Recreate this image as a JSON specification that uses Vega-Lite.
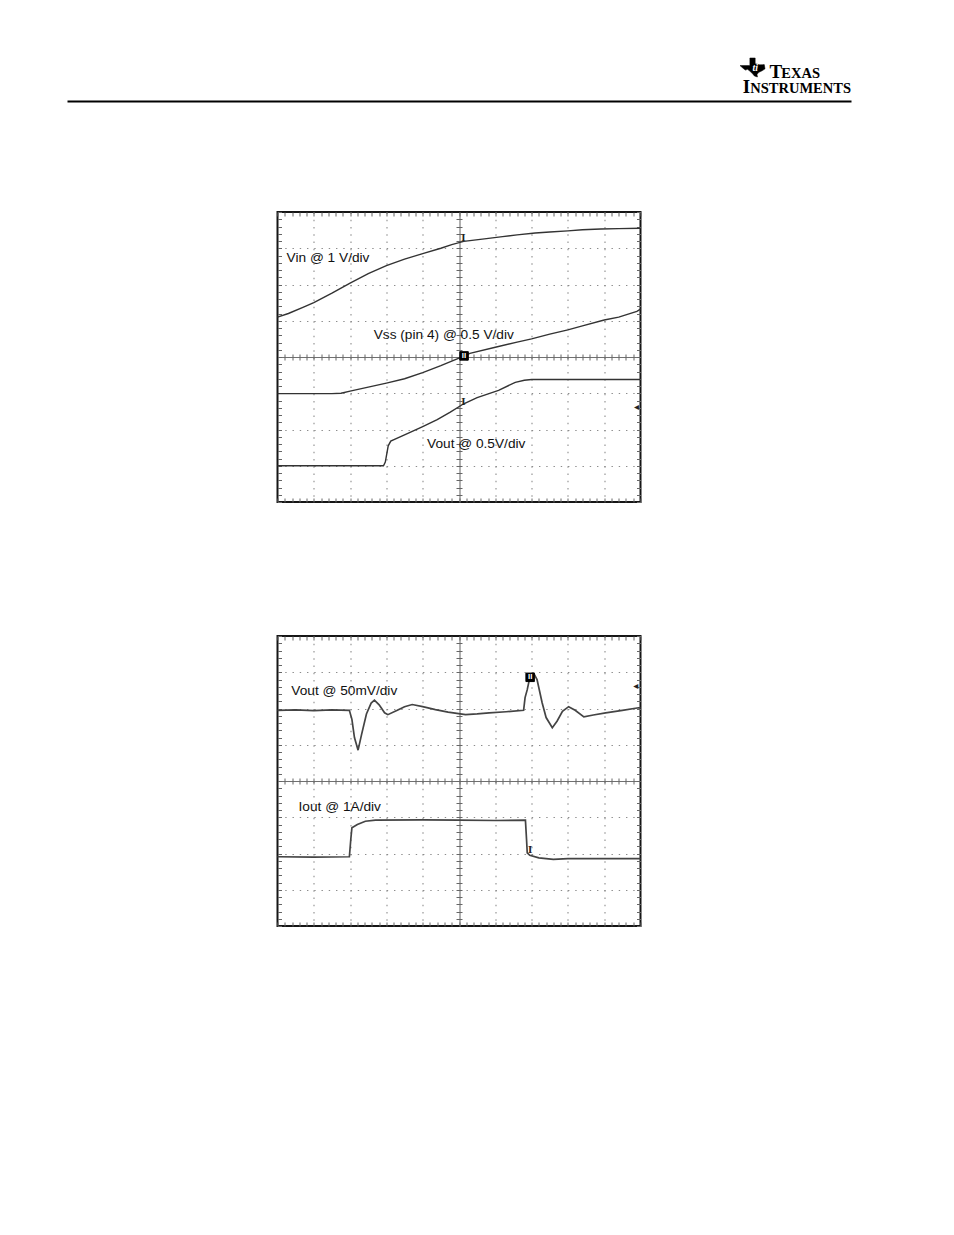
{
 "$schema": "https://vega.github.io/schema/vega-lite/v6.json",
 "background": "white",
 "padding": {"left": 67, "top": 51, "right": 103, "bottom": 309},
 "bounds": "flush",
 "center": true,
 "spacing": 134,
 "config": {"view": {"stroke": "#151515", "strokeWidth": 2}},
 "vconcat": [
  {
   "width": 784, "height": 27,
   "view": {"stroke": null},
   "resolve": {"axis": {"x": "independent", "y": "independent"}},
   "layer": [
    {"data": {"values": [{"w": "T", "x": 89.6, "y": -0.011}, {"w": "I", "x": 86.19, "y": -0.567}]},
     "mark": {"type": "text", "font": "Liberation Serif", "fontSize": 19, "fontWeight": "bold", "align": "left", "baseline": "alphabetic", "color": "#000"},
     "encoding": {
      "x": {"field": "x", "type": "quantitative", "scale": {"domain": [0, 100], "nice": false, "zero": false}, "axis": {"orient": "bottom", "offset": 23, "domain": true, "domainColor": "#000", "domainWidth": 2, "ticks": false, "labels": false, "grid": false, "title": null}},
      "y": {"field": "y", "type": "quantitative", "scale": {"domain": [0, 1], "nice": false, "zero": false}, "axis": null},
      "text": {"field": "w"}}},
    {"data": {"values": [{"w": "EXAS", "x": 96.05, "y": -0.011}, {"w": "NSTRUMENTS", "x": 100.0, "y": -0.567}]},
     "mark": {"type": "text", "font": "Liberation Serif", "fontSize": 14.5, "fontWeight": "bold", "align": "right", "baseline": "alphabetic", "color": "#000"},
     "encoding": {
      "x": {"field": "x", "type": "quantitative", "scale": {"domain": [0, 100], "nice": false, "zero": false}, "axis": null},
      "y": {"field": "y", "type": "quantitative", "scale": {"domain": [0, 1], "nice": false, "zero": false}, "axis": null},
      "text": {"field": "w"}}},
    {"data": {"values": [{"x": 87.44, "y": 0.389}]},
     "mark": {"type": "point", "shape": "M-0.212,-0.76L0.212,-0.76L0.212,-0.3L0.576,-0.21L0.939,-0.23L1,0.11L0.758,0.27L0.479,0.4L0.358,0.57L0.394,0.76L0.152,0.68L-0.03,0.46L-0.248,0.27L-0.394,0.15L-0.576,0.21L-0.758,0.06L-1,-0.15L-0.212,-0.15Z", "size": 625, "filled": true, "fill": "#000", "stroke": "#000", "strokeWidth": 0.5, "opacity": 1},
     "encoding": {
      "x": {"field": "x", "type": "quantitative", "scale": {"domain": [0, 100], "nice": false, "zero": false}, "axis": null},
      "y": {"field": "y", "type": "quantitative", "scale": {"domain": [0, 1], "nice": false, "zero": false}, "axis": null}}},
    {"data": {"values": [{"w": "ti", "x": 87.8, "y": 0.36}]},
     "mark": {"type": "text", "font": "Liberation Serif", "fontStyle": "italic", "fontWeight": "bold", "fontSize": 10, "color": "#fff", "align": "center", "baseline": "middle"},
     "encoding": {
      "x": {"field": "x", "type": "quantitative", "scale": {"domain": [0, 100], "nice": false, "zero": false}, "axis": null},
      "y": {"field": "y", "type": "quantitative", "scale": {"domain": [0, 1], "nice": false, "zero": false}, "axis": null},
      "text": {"field": "w"}}}
   ]
  },
  {
   "width": 363, "height": 290,
   "data": {"values": [
    {"series": "Vin", "t": 0, "v": 5.1}, {"series": "Vin", "t": 0.3, "v": 5.2}, {"series": "Vin", "t": 0.7, "v": 5.37}, {"series": "Vin", "t": 1.0, "v": 5.5}, {"series": "Vin", "t": 1.5, "v": 5.76}, {"series": "Vin", "t": 2.0, "v": 6.04}, {"series": "Vin", "t": 2.5, "v": 6.3}, {"series": "Vin", "t": 3.0, "v": 6.52}, {"series": "Vin", "t": 3.5, "v": 6.7}, {"series": "Vin", "t": 4.0, "v": 6.85}, {"series": "Vin", "t": 4.5, "v": 7.0}, {"series": "Vin", "t": 4.8, "v": 7.1}, {"series": "Vin", "t": 5.13, "v": 7.19}, {"series": "Vin", "t": 5.7, "v": 7.26}, {"series": "Vin", "t": 6.2, "v": 7.32}, {"series": "Vin", "t": 6.6, "v": 7.37}, {"series": "Vin", "t": 7.1, "v": 7.42}, {"series": "Vin", "t": 7.5, "v": 7.45}, {"series": "Vin", "t": 8.0, "v": 7.48}, {"series": "Vin", "t": 8.4, "v": 7.51}, {"series": "Vin", "t": 8.9, "v": 7.53}, {"series": "Vin", "t": 9.4, "v": 7.54}, {"series": "Vin", "t": 10, "v": 7.55},
    {"series": "Vss", "t": 0, "v": 2.99}, {"series": "Vss", "t": 0.8, "v": 2.99}, {"series": "Vss", "t": 1.5, "v": 2.99}, {"series": "Vss", "t": 1.75, "v": 3.0}, {"series": "Vss", "t": 2.0, "v": 3.06}, {"series": "Vss", "t": 2.5, "v": 3.17}, {"series": "Vss", "t": 3.0, "v": 3.28}, {"series": "Vss", "t": 3.5, "v": 3.4}, {"series": "Vss", "t": 4.0, "v": 3.57}, {"series": "Vss", "t": 4.5, "v": 3.76}, {"series": "Vss", "t": 5.0, "v": 3.97}, {"series": "Vss", "t": 5.3, "v": 4.1}, {"series": "Vss", "t": 6.0, "v": 4.27}, {"series": "Vss", "t": 6.6, "v": 4.41}, {"series": "Vss", "t": 7.0, "v": 4.5}, {"series": "Vss", "t": 7.5, "v": 4.63}, {"series": "Vss", "t": 8.0, "v": 4.75}, {"series": "Vss", "t": 8.4, "v": 4.86}, {"series": "Vss", "t": 9.0, "v": 5.02}, {"series": "Vss", "t": 9.4, "v": 5.1}, {"series": "Vss", "t": 9.9, "v": 5.26}, {"series": "Vss", "t": 10, "v": 5.32},
    {"series": "Vout", "t": 0, "v": 1.0}, {"series": "Vout", "t": 1.0, "v": 1.0}, {"series": "Vout", "t": 2.0, "v": 1.0}, {"series": "Vout", "t": 2.92, "v": 1.0}, {"series": "Vout", "t": 2.97, "v": 1.1}, {"series": "Vout", "t": 3.05, "v": 1.55}, {"series": "Vout", "t": 3.12, "v": 1.68}, {"series": "Vout", "t": 3.3, "v": 1.76}, {"series": "Vout", "t": 3.5, "v": 1.85}, {"series": "Vout", "t": 4.0, "v": 2.08}, {"series": "Vout", "t": 4.4, "v": 2.27}, {"series": "Vout", "t": 4.76, "v": 2.48}, {"series": "Vout", "t": 5.13, "v": 2.71}, {"series": "Vout", "t": 5.5, "v": 2.88}, {"series": "Vout", "t": 6.09, "v": 3.08}, {"series": "Vout", "t": 6.55, "v": 3.3}, {"series": "Vout", "t": 6.8, "v": 3.36}, {"series": "Vout", "t": 7.0, "v": 3.38}, {"series": "Vout", "t": 8.0, "v": 3.38}, {"series": "Vout", "t": 9.0, "v": 3.38}, {"series": "Vout", "t": 10, "v": 3.38}
   ]},
   "resolve": {"axis": {"x": "independent", "y": "independent"}},
   "layer": [
    {"mark": {"type": "line", "color": "#333", "strokeWidth": 1.4},
     "encoding": {
      "x": {"field": "t", "type": "quantitative", "scale": {"domain": [0, 10], "nice": false, "zero": false}, "axis": {"orient": "bottom", "values": [1, 2, 3, 4, 5, 6, 7, 8, 9], "grid": true, "gridColor": {"condition": {"test": "datum.value === 5", "value": "#707070"}, "value": "#8c8c8c"}, "gridDash": {"condition": {"test": "datum.value === 5", "value": [10, 0]}, "value": [1.4, 5.85]}, "gridWidth": 1.1, "ticks": false, "labels": false, "domain": false, "title": null}},
      "y": {"field": "v", "type": "quantitative", "scale": {"domain": [0, 8], "nice": false, "zero": false}, "axis": {"orient": "left", "values": [1, 2, 3, 4, 5, 6, 7], "grid": true, "gridColor": {"condition": {"test": "datum.value === 4", "value": "#707070"}, "value": "#8c8c8c"}, "gridDash": {"condition": {"test": "datum.value === 4", "value": [10, 0]}, "value": [1.4, 5.85]}, "gridWidth": 1.1, "ticks": false, "labels": false, "domain": false, "title": null}},
      "detail": {"field": "series", "type": "nominal"}}},
    {"mark": {"type": "point", "opacity": 0},
     "encoding": {
      "x": {"field": "t", "type": "quantitative", "scale": {"domain": [0, 10], "nice": false, "zero": false}, "axis": {"orient": "bottom", "offset": -290, "values": [0,0.2,0.4,0.6,0.8,1,1.2,1.4,1.6,1.8,2,2.2,2.4,2.6,2.8,3,3.2,3.4,3.6,3.8,4,4.2,4.4,4.6,4.8,5,5.2,5.4,5.6,5.8,6,6.2,6.4,6.6,6.8,7,7.2,7.4,7.6,7.8,8,8.2,8.4,8.6,8.8,9,9.2,9.4,9.6,9.8,10], "ticks": true, "tickSize": 4, "tickColor": "#666", "tickWidth": 1, "labels": false, "domain": false, "grid": false, "title": null}},
      "y": {"field": "v", "type": "quantitative", "scale": {"domain": [0, 8], "nice": false, "zero": false}, "axis": {"orient": "right", "offset": -363, "values": [0,0.2,0.4,0.6,0.8,1,1.2,1.4,1.6,1.8,2,2.2,2.4,2.6,2.8,3,3.2,3.4,3.6,3.8,4,4.2,4.4,4.6,4.8,5,5.2,5.4,5.6,5.8,6,6.2,6.4,6.6,6.8,7,7.2,7.4,7.6,7.8,8], "ticks": true, "tickSize": 4, "tickColor": "#666", "tickWidth": 1, "labels": false, "domain": false, "grid": false, "title": null}}}},
    {"mark": {"type": "point", "opacity": 0},
     "encoding": {
      "x": {"field": "t", "type": "quantitative", "scale": {"domain": [0, 10], "nice": false, "zero": false}, "axis": {"orient": "top", "offset": -290, "values": [0,0.2,0.4,0.6,0.8,1,1.2,1.4,1.6,1.8,2,2.2,2.4,2.6,2.8,3,3.2,3.4,3.6,3.8,4,4.2,4.4,4.6,4.8,5,5.2,5.4,5.6,5.8,6,6.2,6.4,6.6,6.8,7,7.2,7.4,7.6,7.8,8,8.2,8.4,8.6,8.8,9,9.2,9.4,9.6,9.8,10], "ticks": true, "tickSize": 4, "tickColor": "#666", "tickWidth": 1, "labels": false, "domain": false, "grid": false, "title": null}},
      "y": {"field": "v", "type": "quantitative", "scale": {"domain": [0, 8], "nice": false, "zero": false}, "axis": {"orient": "left", "offset": -363, "values": [0,0.2,0.4,0.6,0.8,1,1.2,1.4,1.6,1.8,2,2.2,2.4,2.6,2.8,3,3.2,3.4,3.6,3.8,4,4.2,4.4,4.6,4.8,5,5.2,5.4,5.6,5.8,6,6.2,6.4,6.6,6.8,7,7.2,7.4,7.6,7.8,8], "ticks": true, "tickSize": 4, "tickColor": "#666", "tickWidth": 1, "labels": false, "domain": false, "grid": false, "title": null}}}},
    {"mark": {"type": "point", "opacity": 0},
     "encoding": {
      "x": {"field": "t", "type": "quantitative", "scale": {"domain": [0, 10], "nice": false, "zero": false}, "axis": {"orient": "bottom", "offset": -148, "values": [0.2,0.4,0.6,0.8,1,1.2,1.4,1.6,1.8,2,2.2,2.4,2.6,2.8,3,3.2,3.4,3.6,3.8,4,4.2,4.4,4.6,4.8,5,5.2,5.4,5.6,5.8,6,6.2,6.4,6.6,6.8,7,7.2,7.4,7.6,7.8,8,8.2,8.4,8.6,8.8,9,9.2,9.4,9.6,9.8], "ticks": true, "tickSize": 6, "tickColor": "#666", "tickWidth": 1, "labels": false, "domain": false, "grid": false, "title": null}},
      "y": {"field": "v", "type": "quantitative", "scale": {"domain": [0, 8], "nice": false, "zero": false}, "axis": {"orient": "left", "offset": -184.5, "values": [0.2,0.4,0.6,0.8,1,1.2,1.4,1.6,1.8,2,2.2,2.4,2.6,2.8,3,3.2,3.4,3.6,3.8,4,4.2,4.4,4.6,4.8,5,5.2,5.4,5.6,5.8,6,6.2,6.4,6.6,6.8,7,7.2,7.4,7.6,7.8], "ticks": true, "tickSize": 6, "tickColor": "#666", "tickWidth": 1, "labels": false, "domain": false, "grid": false, "title": null}}}},
    {"data": {"values": [{"label": "Vin @ 1 V/div", "t": 0.25, "v": 6.72}, {"label": "Vss (pin 4) @ 0.5 V/div", "t": 2.65, "v": 4.61}, {"label": "Vout @ 0.5V/div", "t": 4.12, "v": 1.59}]},
     "mark": {"type": "text", "align": "left", "baseline": "middle", "font": "Liberation Sans", "fontSize": 13.7, "color": "#111"},
     "encoding": {
      "x": {"field": "t", "type": "quantitative", "scale": {"domain": [0, 10], "nice": false, "zero": false}, "axis": null},
      "y": {"field": "v", "type": "quantitative", "scale": {"domain": [0, 8], "nice": false, "zero": false}, "axis": null},
      "text": {"field": "label"}}},
    {"data": {"values": [{"t": 5.12, "v": 7.27}, {"t": 5.12, "v": 2.77}]},
     "mark": {"type": "text", "text": "I", "font": "Liberation Serif", "fontSize": 11, "fontWeight": "bold", "color": "#222", "align": "center", "baseline": "middle"},
     "encoding": {
      "x": {"field": "t", "type": "quantitative", "scale": {"domain": [0, 10], "nice": false, "zero": false}, "axis": null},
      "y": {"field": "v", "type": "quantitative", "scale": {"domain": [0, 8], "nice": false, "zero": false}, "axis": null}}},
    {"data": {"values": [{"t": 5.14, "v": 4.03}]},
     "mark": {"type": "point", "shape": "square", "size": 72, "filled": true, "fill": "#000", "stroke": "#000", "strokeWidth": 1, "opacity": 1},
     "encoding": {
      "x": {"field": "t", "type": "quantitative", "scale": {"domain": [0, 10], "nice": false, "zero": false}, "axis": null},
      "y": {"field": "v", "type": "quantitative", "scale": {"domain": [0, 8], "nice": false, "zero": false}, "axis": null}}},
    {"data": {"values": [{"t": 5.14, "v": 4.03}]},
     "mark": {"type": "text", "text": "II", "font": "Liberation Sans", "fontSize": 8, "fontWeight": "bold", "color": "#fff", "align": "center", "baseline": "middle"},
     "encoding": {
      "x": {"field": "t", "type": "quantitative", "scale": {"domain": [0, 10], "nice": false, "zero": false}, "axis": null},
      "y": {"field": "v", "type": "quantitative", "scale": {"domain": [0, 8], "nice": false, "zero": false}, "axis": null}}},
    {"data": {"values": [{"t": 9.89, "v": 2.61}]},
     "mark": {"type": "text", "text": "◂", "font": "DejaVu Sans", "fontSize": 10, "color": "#222", "align": "center", "baseline": "middle"},
     "encoding": {
      "x": {"field": "t", "type": "quantitative", "scale": {"domain": [0, 10], "nice": false, "zero": false}, "axis": null},
      "y": {"field": "v", "type": "quantitative", "scale": {"domain": [0, 8], "nice": false, "zero": false}, "axis": null}}}
   ]
  },
  {
   "width": 363, "height": 290,
   "data": {"values": [
    {"series": "Vout", "t": 0, "v": 5.95}, {"series": "Vout", "t": 0.5, "v": 5.96}, {"series": "Vout", "t": 1.0, "v": 5.94}, {"series": "Vout", "t": 1.5, "v": 5.96}, {"series": "Vout", "t": 1.98, "v": 5.95}, {"series": "Vout", "t": 2.05, "v": 5.7}, {"series": "Vout", "t": 2.12, "v": 5.2}, {"series": "Vout", "t": 2.22, "v": 4.85}, {"series": "Vout", "t": 2.32, "v": 5.3}, {"series": "Vout", "t": 2.45, "v": 5.85}, {"series": "Vout", "t": 2.58, "v": 6.15}, {"series": "Vout", "t": 2.67, "v": 6.23}, {"series": "Vout", "t": 2.8, "v": 6.1}, {"series": "Vout", "t": 2.95, "v": 5.88}, {"series": "Vout", "t": 3.04, "v": 5.83}, {"series": "Vout", "t": 3.3, "v": 5.95}, {"series": "Vout", "t": 3.5, "v": 6.05}, {"series": "Vout", "t": 3.71, "v": 6.11}, {"series": "Vout", "t": 4.0, "v": 6.05}, {"series": "Vout", "t": 4.35, "v": 5.97}, {"series": "Vout", "t": 4.7, "v": 5.9}, {"series": "Vout", "t": 5.18, "v": 5.83}, {"series": "Vout", "t": 5.5, "v": 5.85}, {"series": "Vout", "t": 5.83, "v": 5.88}, {"series": "Vout", "t": 6.3, "v": 5.91}, {"series": "Vout", "t": 6.78, "v": 5.95}, {"series": "Vout", "t": 6.82, "v": 6.3}, {"series": "Vout", "t": 6.88, "v": 6.52}, {"series": "Vout", "t": 6.95, "v": 6.85}, {"series": "Vout", "t": 7.06, "v": 6.97}, {"series": "Vout", "t": 7.15, "v": 6.8}, {"series": "Vout", "t": 7.29, "v": 6.16}, {"series": "Vout", "t": 7.4, "v": 5.75}, {"series": "Vout", "t": 7.57, "v": 5.47}, {"series": "Vout", "t": 7.7, "v": 5.65}, {"series": "Vout", "t": 7.85, "v": 5.92}, {"series": "Vout", "t": 8.02, "v": 6.05}, {"series": "Vout", "t": 8.2, "v": 5.95}, {"series": "Vout", "t": 8.44, "v": 5.77}, {"series": "Vout", "t": 8.7, "v": 5.82}, {"series": "Vout", "t": 9.04, "v": 5.88}, {"series": "Vout", "t": 9.5, "v": 5.95}, {"series": "Vout", "t": 9.95, "v": 6.02}, {"series": "Vout", "t": 10, "v": 6.02},
    {"series": "Iout", "t": 0, "v": 1.91}, {"series": "Iout", "t": 1.0, "v": 1.9}, {"series": "Iout", "t": 1.98, "v": 1.91}, {"series": "Iout", "t": 2.02, "v": 2.4}, {"series": "Iout", "t": 2.05, "v": 2.71}, {"series": "Iout", "t": 2.2, "v": 2.8}, {"series": "Iout", "t": 2.42, "v": 2.89}, {"series": "Iout", "t": 2.7, "v": 2.92}, {"series": "Iout", "t": 4.0, "v": 2.93}, {"series": "Iout", "t": 5.0, "v": 2.92}, {"series": "Iout", "t": 6.0, "v": 2.91}, {"series": "Iout", "t": 6.83, "v": 2.92}, {"series": "Iout", "t": 6.86, "v": 2.4}, {"series": "Iout", "t": 6.88, "v": 2.02}, {"series": "Iout", "t": 6.95, "v": 1.95}, {"series": "Iout", "t": 7.2, "v": 1.88}, {"series": "Iout", "t": 7.6, "v": 1.84}, {"series": "Iout", "t": 8.0, "v": 1.86}, {"series": "Iout", "t": 9.0, "v": 1.86}, {"series": "Iout", "t": 10, "v": 1.86}
   ]},
   "resolve": {"axis": {"x": "independent", "y": "independent"}},
   "layer": [
    {"mark": {"type": "line", "color": "#444", "strokeWidth": 1.7},
     "encoding": {
      "x": {"field": "t", "type": "quantitative", "scale": {"domain": [0, 10], "nice": false, "zero": false}, "axis": {"orient": "bottom", "values": [1, 2, 3, 4, 5, 6, 7, 8, 9], "grid": true, "gridColor": {"condition": {"test": "datum.value === 5", "value": "#707070"}, "value": "#8c8c8c"}, "gridDash": {"condition": {"test": "datum.value === 5", "value": [10, 0]}, "value": [1.4, 5.85]}, "gridWidth": 1.1, "ticks": false, "labels": false, "domain": false, "title": null}},
      "y": {"field": "v", "type": "quantitative", "scale": {"domain": [0, 8], "nice": false, "zero": false}, "axis": {"orient": "left", "values": [1, 2, 3, 4, 5, 6, 7], "grid": true, "gridColor": {"condition": {"test": "datum.value === 4", "value": "#707070"}, "value": "#8c8c8c"}, "gridDash": {"condition": {"test": "datum.value === 4", "value": [10, 0]}, "value": [1.4, 5.85]}, "gridWidth": 1.1, "ticks": false, "labels": false, "domain": false, "title": null}},
      "detail": {"field": "series", "type": "nominal"}}},
    {"mark": {"type": "point", "opacity": 0},
     "encoding": {
      "x": {"field": "t", "type": "quantitative", "scale": {"domain": [0, 10], "nice": false, "zero": false}, "axis": {"orient": "bottom", "offset": -290, "values": [0,0.2,0.4,0.6,0.8,1,1.2,1.4,1.6,1.8,2,2.2,2.4,2.6,2.8,3,3.2,3.4,3.6,3.8,4,4.2,4.4,4.6,4.8,5,5.2,5.4,5.6,5.8,6,6.2,6.4,6.6,6.8,7,7.2,7.4,7.6,7.8,8,8.2,8.4,8.6,8.8,9,9.2,9.4,9.6,9.8,10], "ticks": true, "tickSize": 4, "tickColor": "#666", "tickWidth": 1, "labels": false, "domain": false, "grid": false, "title": null}},
      "y": {"field": "v", "type": "quantitative", "scale": {"domain": [0, 8], "nice": false, "zero": false}, "axis": {"orient": "right", "offset": -363, "values": [0,0.2,0.4,0.6,0.8,1,1.2,1.4,1.6,1.8,2,2.2,2.4,2.6,2.8,3,3.2,3.4,3.6,3.8,4,4.2,4.4,4.6,4.8,5,5.2,5.4,5.6,5.8,6,6.2,6.4,6.6,6.8,7,7.2,7.4,7.6,7.8,8], "ticks": true, "tickSize": 4, "tickColor": "#666", "tickWidth": 1, "labels": false, "domain": false, "grid": false, "title": null}}}},
    {"mark": {"type": "point", "opacity": 0},
     "encoding": {
      "x": {"field": "t", "type": "quantitative", "scale": {"domain": [0, 10], "nice": false, "zero": false}, "axis": {"orient": "top", "offset": -290, "values": [0,0.2,0.4,0.6,0.8,1,1.2,1.4,1.6,1.8,2,2.2,2.4,2.6,2.8,3,3.2,3.4,3.6,3.8,4,4.2,4.4,4.6,4.8,5,5.2,5.4,5.6,5.8,6,6.2,6.4,6.6,6.8,7,7.2,7.4,7.6,7.8,8,8.2,8.4,8.6,8.8,9,9.2,9.4,9.6,9.8,10], "ticks": true, "tickSize": 4, "tickColor": "#666", "tickWidth": 1, "labels": false, "domain": false, "grid": false, "title": null}},
      "y": {"field": "v", "type": "quantitative", "scale": {"domain": [0, 8], "nice": false, "zero": false}, "axis": {"orient": "left", "offset": -363, "values": [0,0.2,0.4,0.6,0.8,1,1.2,1.4,1.6,1.8,2,2.2,2.4,2.6,2.8,3,3.2,3.4,3.6,3.8,4,4.2,4.4,4.6,4.8,5,5.2,5.4,5.6,5.8,6,6.2,6.4,6.6,6.8,7,7.2,7.4,7.6,7.8,8], "ticks": true, "tickSize": 4, "tickColor": "#666", "tickWidth": 1, "labels": false, "domain": false, "grid": false, "title": null}}}},
    {"mark": {"type": "point", "opacity": 0},
     "encoding": {
      "x": {"field": "t", "type": "quantitative", "scale": {"domain": [0, 10], "nice": false, "zero": false}, "axis": {"orient": "bottom", "offset": -148, "values": [0.2,0.4,0.6,0.8,1,1.2,1.4,1.6,1.8,2,2.2,2.4,2.6,2.8,3,3.2,3.4,3.6,3.8,4,4.2,4.4,4.6,4.8,5,5.2,5.4,5.6,5.8,6,6.2,6.4,6.6,6.8,7,7.2,7.4,7.6,7.8,8,8.2,8.4,8.6,8.8,9,9.2,9.4,9.6,9.8], "ticks": true, "tickSize": 6, "tickColor": "#666", "tickWidth": 1, "labels": false, "domain": false, "grid": false, "title": null}},
      "y": {"field": "v", "type": "quantitative", "scale": {"domain": [0, 8], "nice": false, "zero": false}, "axis": {"orient": "left", "offset": -184.5, "values": [0.2,0.4,0.6,0.8,1,1.2,1.4,1.6,1.8,2,2.2,2.4,2.6,2.8,3,3.2,3.4,3.6,3.8,4,4.2,4.4,4.6,4.8,5,5.2,5.4,5.6,5.8,6,6.2,6.4,6.6,6.8,7,7.2,7.4,7.6,7.8], "ticks": true, "tickSize": 6, "tickColor": "#666", "tickWidth": 1, "labels": false, "domain": false, "grid": false, "title": null}}}},
    {"data": {"values": [{"label": "Vout @ 50mV/div", "t": 0.38, "v": 6.48}, {"label": "Iout @ 1A/div", "t": 0.58, "v": 3.27}]},
     "mark": {"type": "text", "align": "left", "baseline": "middle", "font": "Liberation Sans", "fontSize": 13.7, "color": "#111"},
     "encoding": {
      "x": {"field": "t", "type": "quantitative", "scale": {"domain": [0, 10], "nice": false, "zero": false}, "axis": null},
      "y": {"field": "v", "type": "quantitative", "scale": {"domain": [0, 8], "nice": false, "zero": false}, "axis": null},
      "text": {"field": "label"}}},
    {"data": {"values": [{"t": 6.96, "v": 2.11}]},
     "mark": {"type": "text", "text": "I", "font": "Liberation Serif", "fontSize": 11, "fontWeight": "bold", "color": "#222", "align": "center", "baseline": "middle"},
     "encoding": {
      "x": {"field": "t", "type": "quantitative", "scale": {"domain": [0, 10], "nice": false, "zero": false}, "axis": null},
      "y": {"field": "v", "type": "quantitative", "scale": {"domain": [0, 8], "nice": false, "zero": false}, "axis": null}}},
    {"data": {"values": [{"t": 6.96, "v": 6.86}]},
     "mark": {"type": "point", "shape": "square", "size": 72, "filled": true, "fill": "#000", "stroke": "#000", "strokeWidth": 1, "opacity": 1},
     "encoding": {
      "x": {"field": "t", "type": "quantitative", "scale": {"domain": [0, 10], "nice": false, "zero": false}, "axis": null},
      "y": {"field": "v", "type": "quantitative", "scale": {"domain": [0, 8], "nice": false, "zero": false}, "axis": null}}},
    {"data": {"values": [{"t": 6.96, "v": 6.86}]},
     "mark": {"type": "text", "text": "II", "font": "Liberation Sans", "fontSize": 8, "fontWeight": "bold", "color": "#fff", "align": "center", "baseline": "middle"},
     "encoding": {
      "x": {"field": "t", "type": "quantitative", "scale": {"domain": [0, 10], "nice": false, "zero": false}, "axis": null},
      "y": {"field": "v", "type": "quantitative", "scale": {"domain": [0, 8], "nice": false, "zero": false}, "axis": null}}},
    {"data": {"values": [{"t": 9.87, "v": 6.62}]},
     "mark": {"type": "text", "text": "◂", "font": "DejaVu Sans", "fontSize": 10, "color": "#222", "align": "center", "baseline": "middle"},
     "encoding": {
      "x": {"field": "t", "type": "quantitative", "scale": {"domain": [0, 10], "nice": false, "zero": false}, "axis": null},
      "y": {"field": "v", "type": "quantitative", "scale": {"domain": [0, 8], "nice": false, "zero": false}, "axis": null}}}
   ]
  }
 ]
}
